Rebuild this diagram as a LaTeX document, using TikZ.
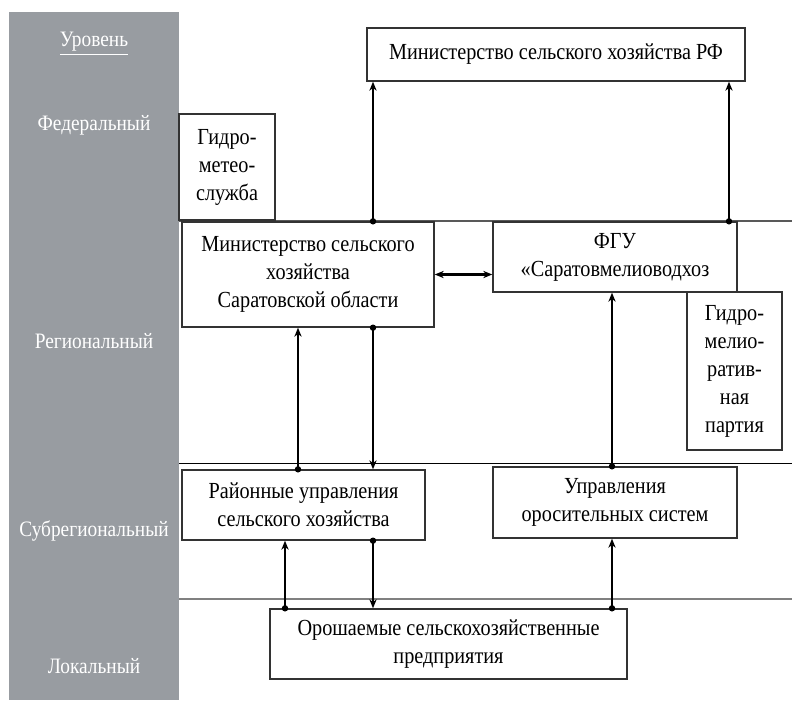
\documentclass[tikz,border=0pt]{standalone}
\usepackage{fontspec}
\setmainfont{Liberation Serif}[FakeStretch=0.88]
\usetikzlibrary{arrows.meta,positioning}
\definecolor{bandgray}{RGB}{152,156,161}

\begin{document}
\begin{tikzpicture}[x=0.5pt,y=-0.5pt,
  >={Stealth[length=4.5pt,width=3.6pt,inset=1.4pt]},
  box/.style={draw=black!80,line width=0.7pt,fill=white,align=center,inner sep=2pt,
    font=\fontsize{11.5}{14}\selectfont},
  lvl/.style={text=white,font=\fontsize{11}{13}\selectfont},
  link/.style={->,line width=0.8pt},
  both/.style={<->,line width=1.3pt}]
\useasboundingbox (0,0) rectangle (792,702);
\fill[bandgray] (9,12) rectangle (179,700);
\draw[gray!70!black,line width=1pt] (179,221) -- (792,221);
\draw[black,line width=0.5pt]       (179,463) -- (792,463);
\draw[gray,line width=0.8pt]        (179,599) -- (792,599);

% levels
\node[lvl] (lv0) at (94,44)  {\underline{Уровень}};
\node[lvl] (lv1) at (94,125) {Федеральный};
\node[lvl] (lv2) at (94,341) {Региональный};
\node[lvl] (lv3) at (94,531) {Субрегиональный};
\node[lvl] (lv4) at (94,666) {Локальный};

% boxes
\node[box,minimum width=189pt,minimum height=26.5pt] (minrf)  at (556,54.5) {Министерство сельского хозяйства РФ};
\node[box,minimum width=48pt,minimum height=53pt]    (gms)    at (227,167)  {Гидро-\\метео-\\служба};
\node[box,minimum width=126pt,minimum height=52.5pt] (minsar) at (308,274.5) {Министерство сельского\\хозяйства\\Саратовской области};
\node[box,minimum width=122pt,minimum height=35pt]   (fgu)    at (615,257)  {ФГУ\\«Саратовмелиоводхоз};
\node[box,minimum width=47.5pt,minimum height=79pt]  (gmp)    at (734.5,371) {Гидро-\\мелио-\\ратив-\\ная\\партия};
\node[box,minimum width=121.5pt,minimum height=35pt] (raion)  at (303.5,505) {Районные управления\\сельского хозяйства};
\node[box,minimum width=122pt,minimum height=35.5pt] (upr)    at (615,502.5) {Управления\\оросительных систем};
\node[box,minimum width=178.5pt,minimum height=35pt] (orosh)  at (448.5,644) {Орошаемые сельскохозяйственные\\предприятия};

% links
\draw[link] ([xshift=32.5pt]minsar.north) coordinate (p1) -- (p1 |- minrf.south);
\draw[link] ([xshift=57pt]fgu.north)      coordinate (p2) -- (p2 |- minrf.south);
\draw[both] (minsar.east) -- (minsar.east -| fgu.west);
\draw[link] ([xshift=-2.75pt]raion.north) coordinate (p3) -- (p3 |- minsar.south);
\draw[link] ([xshift=32.5pt]minsar.south) coordinate (p4) -- (p4 |- raion.north);
\draw[link] ([xshift=-1.5pt]upr.north)    coordinate (p5) -- (p5 |- fgu.south);
\draw[link] ([xshift=-81.75pt]orosh.north) coordinate (p6) -- (p6 |- raion.south);
\draw[link] ([xshift=34.75pt]raion.south) coordinate (p7) -- (p7 |- orosh.north);
\draw[link] ([xshift=81.75pt]orosh.north) coordinate (p8) -- (p8 |- upr.south);
\foreach \p in {p1,p2,p3,p4,p5,p6,p7,p8}
  \fill (\p) circle (1.6pt);
\end{tikzpicture}
\end{document}
